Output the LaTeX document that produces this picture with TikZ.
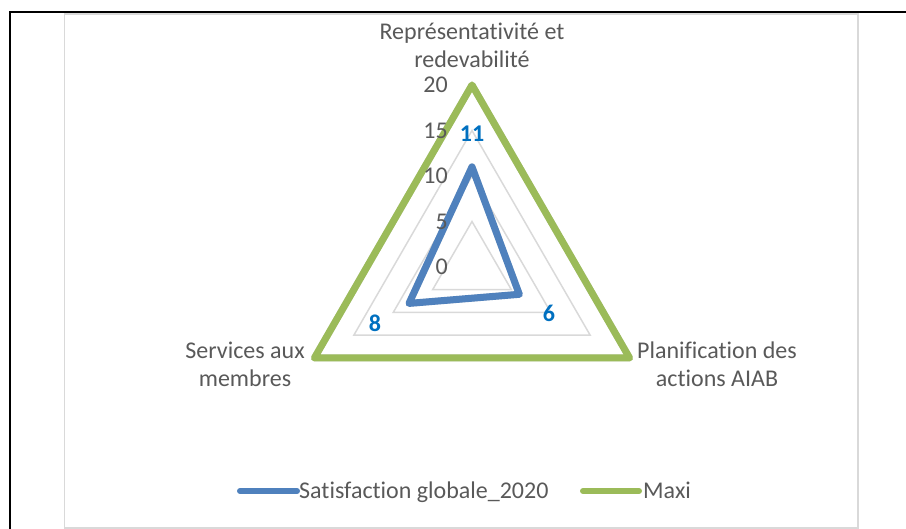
\documentclass[tikz,border=0pt]{standalone}
\usepackage{fontspec}
\setmainfont{Carlito}[Ligatures=NoCommon]
\usepackage{xcolor}
\usepackage{tikz}

\definecolor{txtgray}{HTML}{595959}
\definecolor{gridgray}{HTML}{D9D9D9}
\definecolor{serblue}{HTML}{4F81BD}
\definecolor{sergreen}{HTML}{9BBB59}
\definecolor{lblblue}{HTML}{0070C0}

\begin{document}
\begin{tikzpicture}[x=1pt,y=-1pt,
  every node/.style={inner sep=0pt, text=txtgray, font=\fontsize{24}{28}\selectfont},
  grid/.style={draw=gridgray, line width=1.5pt},
  serie/.style={line width=7pt, line join=round, line cap=round},
  shade/.style={line width=7pt, line join=round, draw=black, opacity=0.12},
  axislbl/.style={anchor=east},
  catlbl/.style={align=center},
  vallbl/.style={text=lblblue, font=\fontsize{24}{28}\selectfont\bfseries}]
\useasboundingbox (0,0) rectangle (906,529);
% Frames
\draw[line width=2pt] (9.5,529) -- (9.5,12.5) -- (906,12.5);
\draw[draw=gridgray, line width=1.5pt] (64.5,14) rectangle (858,528);
% Points
\coordinate (t5) at (472,221.5);  \coordinate (r5) at (511.4,289.75);  \coordinate (l5) at (432.6,289.75);
\coordinate (t10) at (472,176);   \coordinate (r10) at (550.8,312.5);  \coordinate (l10) at (393.2,312.5);
\coordinate (t15) at (472,130.5); \coordinate (r15) at (590.2,335.25); \coordinate (l15) at (353.8,335.25);
\coordinate (t20) at (472,85);    \coordinate (r20) at (629.6,358);    \coordinate (l20) at (314.4,358);
\coordinate (sat1) at (472,166.9); \coordinate (sat2) at (519.3,294.3); \coordinate (sat3) at (409.0,303.4);
% Grid
\draw[grid] (t5) -- (r5) -- (l5) -- cycle;
\draw[grid] (t10) -- (r10) -- (l10) -- cycle;
\draw[grid] (t15) -- (r15) -- (l15) -- cycle;
% Series
\draw[shade, shift={(1.5,2.5)}] (t20) -- (r20) -- (l20) -- cycle;
\draw[serie, draw=sergreen] (t20) -- (r20) -- (l20) -- cycle;
\draw[shade, shift={(1.5,2.5)}] (sat1) -- (sat2) -- (sat3) -- cycle;
\draw[serie, draw=serblue] (sat1) -- (sat2) -- (sat3) -- cycle;
% Axis values
\node[axislbl] (a0) at (448,267) {0};
\node[axislbl] (a5) at (448,221.5) {5};
\node[axislbl] (a10) at (448,176) {10};
\node[axislbl] (a15) at (448,130.5) {15};
\node[axislbl] (a20) at (448,85) {20};
% Data labels
\node[vallbl] (v1) at (472,134) {11};
\node[vallbl] (v2) at (549,313) {6};
\node[vallbl] (v3) at (375,323) {8};
% Categories
\node[catlbl] (c1) at (472,45) {Représentativité et\\redevabilité};
\node[catlbl] (c2) at (717,364) {Planification des\\actions AIAB};
\node[catlbl] (c3) at (245,364) {Services aux\\membres};
% Legend
\coordinate (k1a) at (240,491); \coordinate (k1b) at (297,491);
\coordinate (k2a) at (583,491); \coordinate (k2b) at (639,491);
\draw[serie, line width=6pt, draw=serblue] (k1a) -- (k1b);
\draw[serie, line width=6pt, draw=sergreen] (k2a) -- (k2b);
\node[anchor=base west] (s1) at (299,499) {Satisfaction globale\_2020};
\node[anchor=base west] (s2) at (643,499) {Maxi};
\end{tikzpicture}
\end{document}
